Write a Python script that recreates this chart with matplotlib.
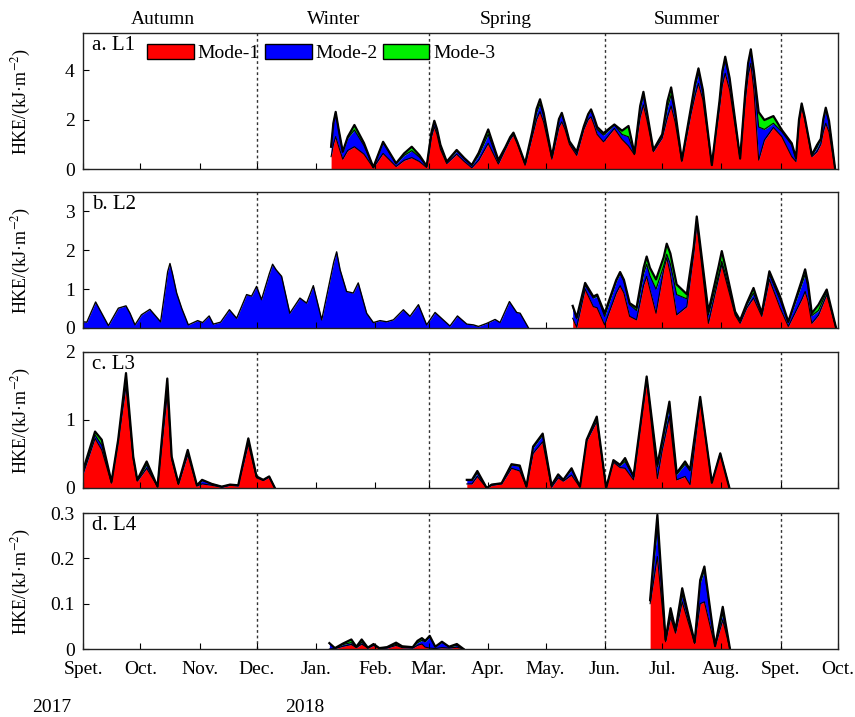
import matplotlib
matplotlib.use("Agg")
import matplotlib.pyplot as plt
from matplotlib.patches import Patch

plt.rcParams["font.family"] = ["Liberation Serif", "DejaVu Serif"]
plt.rcParams["mathtext.fontset"] = "stix"

# days counted from 1 Sept 2017
month_days = [0, 30, 61, 91, 122, 153, 181, 212, 242, 273, 303, 334, 365, 395]
month_labels = ["Spet.", "Oct.", "Nov.", "Dec.", "Jan.", "Feb.", "Mar.", "Apr.",
                "May.", "Jun.", "Jul.", "Aug.", "Spet.", "Oct."]
season_days = [91, 181, 273, 365]
season_names = ["Autumn", "Winter", "Spring", "Summer"]
season_label_days = [42, 131, 221, 316]

# ---- L1
l1_day = [129.8, 131.0, 132.2, 133.6, 135.9, 138.5, 142.0, 147.0, 151.9, 157.0,
          163.8, 168.0, 172.0, 176.0, 179.8, 182.3, 183.8, 185.2, 187.0, 190.3,
          195.5, 199.5, 203.4, 207.0, 212.0, 217.3, 221.0, 223.5, 225.2, 227.3,
          231.3, 235.0, 237.3, 239.1, 241.0, 245.3, 249.0, 250.5, 252.2, 254.5,
          258.3, 262.0, 264.3, 265.8, 267.3, 269.0, 272.3, 278.0, 282.0, 285.4,
          288.5, 291.5, 293.2, 295.0, 298.4, 303.0, 305.8, 307.7, 309.8, 313.3,
          318.0, 320.3, 322.0, 324.3, 329.0, 333.0, 334.5, 336.0, 338.3, 343.8,
          346.5, 348.0, 349.4, 351.0, 353.5, 356.5, 361.2, 365.6, 370.8, 373.0,
          374.6, 376.0, 377.6, 381.3, 384.0, 386.0, 387.3, 388.6, 390.3, 393.5]
l1_m1 = [0.50, 1.00, 1.31, 0.95, 0.40, 0.75, 0.90, 0.60, 0.05, 0.63,
         0.10, 0.35, 0.46, 0.30, 0.06, 1.30, 1.71, 1.40, 0.80, 0.22,
         0.60, 0.30, 0.05, 0.35, 1.04, 0.20, 0.80, 1.20, 1.38, 1.00,
         0.15, 1.30, 2.00, 2.32, 1.90, 0.40, 1.70, 1.91, 1.60, 1.00,
         0.55, 1.60, 2.00, 2.11, 1.80, 1.40, 1.10, 1.64, 1.20, 0.93,
         0.58, 2.10, 2.59, 2.00, 0.70, 1.25, 2.10, 2.55, 1.90, 0.30,
         2.20, 3.00, 3.46, 2.80, 0.14, 2.50, 3.40, 3.87, 3.20, 0.40,
         2.80, 3.80, 4.27, 3.20, 0.36, 1.17, 1.68, 1.31, 0.50, 0.30,
         1.90, 2.52, 2.00, 0.50, 0.70, 1.00, 1.50, 1.85, 1.50, 0.00]
l1_m2 = [0.40, 0.85, 0.98, 0.70, 0.28, 0.50, 0.68, 0.35, 0.02, 0.45,
         0.12, 0.20, 0.28, 0.18, 0.05, 0.15, 0.20, 0.18, 0.15, 0.07,
         0.13, 0.12, 0.10, 0.20, 0.36, 0.10, 0.06, 0.07, 0.07, 0.06,
         0.05, 0.15, 0.28, 0.31, 0.25, 0.07, 0.30, 0.34, 0.20, 0.10,
         0.10, 0.10, 0.20, 0.27, 0.25, 0.20, 0.27, 0.14, 0.20, 0.37,
         0.03, 0.35, 0.40, 0.25, 0.05, 0.10, 0.40, 0.44, 0.30, 0.04,
         0.20, 0.35, 0.41, 0.30, 0.01, 0.20, 0.45, 0.53, 0.40, 0.02,
         0.30, 0.45, 0.53, 0.60, 1.34, 0.43, 0.17, 0.20, 0.47, 0.12,
         0.08, 0.10, 0.08, 0.05, 0.17, 0.20, 0.45, 0.55, 0.40, 0.00]
l1_m3 = [0.00, 0.01, 0.02, 0.02, 0.02, 0.05, 0.20, 0.10, 0.00, 0.02,
         0.01, 0.08, 0.16, 0.08, 0.01, 0.03, 0.04, 0.04, 0.03, 0.01,
         0.04, 0.02, 0.01, 0.10, 0.20, 0.06, 0.03, 0.02, 0.02, 0.02,
         0.03, 0.05, 0.15, 0.19, 0.12, 0.03, 0.02, 0.02, 0.02, 0.02,
         0.05, 0.02, 0.02, 0.03, 0.05, 0.10, 0.08, 0.02, 0.15, 0.44,
         0.02, 0.10, 0.13, 0.08, 0.02, 0.05, 0.25, 0.31, 0.15, 0.02,
         0.06, 0.15, 0.20, 0.10, 0.01, 0.05, 0.10, 0.14, 0.08, 0.01,
         0.03, 0.04, 0.04, 0.15, 0.60, 0.38, 0.29, 0.07, 0.07, 0.03,
         0.02, 0.03, 0.02, 0.02, 0.10, 0.02, 0.06, 0.08, 0.05, 0.00]

# ---- L2 (autumn-spring: mode-2 only)
l2a_day = [0, 2, 6.6, 13.3, 18.5, 22.5, 24.6, 27.2, 30.6, 35.0,
           40.6, 44.3, 45.5, 46.8, 49.0, 51.7, 55.1, 60.0, 62.6, 66.0,
           68.2, 72.0, 76.6, 80.4, 85.6, 88.2, 90.8, 93.4, 97.5, 99.2,
           101.0, 103.9, 108.2, 113.5, 117.0, 120.5, 124.9, 131.2, 132.7, 134.5,
           137.9, 141.4, 144.0, 148.4, 151.9, 155.4, 158.9, 162.4, 167.6, 171.1,
           175.5, 179.8, 184.2, 192.0, 195.9, 200.8, 204.3, 206.9, 211.3, 215.6,
           218.2, 223.1, 226.9, 228.7, 233.1]
l2a_m2 = [0.16, 0.15, 0.67, 0.06, 0.51, 0.57, 0.38, 0.08, 0.34, 0.48,
          0.16, 1.45, 1.66, 1.40, 0.90, 0.50, 0.08, 0.19, 0.14, 0.31,
          0.10, 0.15, 0.47, 0.25, 0.86, 0.82, 1.07, 0.73, 1.40, 1.64,
          1.50, 1.33, 0.38, 0.77, 0.64, 1.09, 0.21, 1.70, 1.96, 1.50,
          0.94, 0.90, 1.16, 0.38, 0.14, 0.19, 0.16, 0.21, 0.47, 0.30,
          0.60, 0.08, 0.40, 0.05, 0.31, 0.10, 0.08, 0.04, 0.12, 0.22,
          0.14, 0.68, 0.40, 0.38, 0.00]

l2b_day = [256.2, 258.3, 262.7, 267.0, 269.0, 272.9, 279.0, 281.0, 283.0, 286.0,
           289.6, 293.3, 294.9, 296.6, 299.8, 303.8, 305.4, 307.3, 310.6, 315.9,
           319.5, 321.1, 322.8, 327.2, 332.6, 334.2, 336.0, 341.2, 343.8, 347.3,
           350.8, 355.1, 359.1, 364.7, 369.0, 376.2, 377.8, 379.3, 381.3, 384.8,
           389.1, 394.0]
l2b_m1 = [0.25, 0.02, 1.00, 0.55, 0.52, 0.08, 0.90, 1.09, 0.90, 0.30,
          0.21, 1.10, 1.33, 1.00, 0.38, 1.50, 1.81, 1.40, 0.34, 0.55,
          1.90, 2.68, 2.00, 0.12, 1.30, 1.64, 1.30, 0.33, 0.12, 0.52,
          0.77, 0.30, 1.25, 0.52, 0.04, 0.75, 0.94, 0.70, 0.12, 0.33,
          0.86, 0.00]
l2b_m2 = [0.30, 0.22, 0.10, 0.22, 0.30, 0.22, 0.30, 0.31, 0.30, 0.30,
          0.24, 0.30, 0.31, 0.35, 0.62, 0.10, 0.09, 0.25, 0.52, 0.20,
          0.12, 0.12, 0.12, 0.22, 0.08, 0.08, 0.10, 0.05, 0.05, 0.08,
          0.13, 0.05, 0.13, 0.20, 0.10, 0.40, 0.44, 0.35, 0.20, 0.12,
          0.08, 0.00]
l2b_m3 = [0.02, 0.03, 0.06, 0.04, 0.04, 0.08, 0.04, 0.04, 0.04, 0.04,
          0.07, 0.15, 0.20, 0.20, 0.25, 0.22, 0.27, 0.27, 0.26, 0.12,
          0.07, 0.07, 0.07, 0.08, 0.22, 0.26, 0.20, 0.04, 0.03, 0.04,
          0.13, 0.03, 0.08, 0.09, 0.02, 0.10, 0.13, 0.10, 0.06, 0.15,
          0.05, 0.00]

# ---- L3
l3a_day = [0, 6.3, 9.8, 14.9, 18.4, 22.5, 26.3, 28.4, 33.3, 39.0,
           44.1, 46.4, 49.9, 54.8, 59.6, 62.3, 67.4, 72.6, 76.9, 81.2,
           86.5, 90.8, 94.3, 97.4, 100.4]
l3a_m1 = [0.20, 0.73, 0.56, 0.07, 0.68, 1.50, 0.42, 0.10, 0.29, 0.02,
          1.39, 0.42, 0.05, 0.49, 0.03, 0.06, 0.04, 0.01, 0.04, 0.03,
          0.65, 0.15, 0.11, 0.16, 0.00]
l3a_m2 = [0.04, 0.05, 0.07, 0.01, 0.02, 0.12, 0.03, 0.01, 0.05, 0.00,
          0.14, 0.03, 0.01, 0.05, 0.01, 0.05, 0.02, 0.01, 0.01, 0.01,
          0.06, 0.01, 0.01, 0.01, 0.00]
l3a_m3 = [0.02, 0.05, 0.08, 0.01, 0.01, 0.07, 0.01, 0.01, 0.05, 0.00,
          0.08, 0.01, 0.01, 0.02, 0.00, 0.01, 0.00, 0.00, 0.00, 0.00,
          0.02, 0.01, 0.00, 0.00, 0.00]

l3b_day = [200.8, 203.5, 206.3, 211.2, 213.8, 219.0, 224.2, 228.5, 232.0, 235.5,
           240.5, 245.1, 248.6, 251.3, 255.6, 260.0, 263.5, 268.8, 273.7, 277.5,
           281.0, 283.6, 288.0, 294.9, 300.5, 303.0, 306.8, 310.6, 315.0, 317.6,
           322.9, 329.0, 333.4, 338.2]
l3b_m1 = [0.06, 0.06, 0.17, 0.00, 0.04, 0.06, 0.29, 0.25, 0.02, 0.51,
          0.68, 0.01, 0.15, 0.10, 0.19, 0.01, 0.69, 0.98, 0.00, 0.38,
          0.30, 0.29, 0.12, 1.58, 0.14, 0.55, 1.05, 0.12, 0.17, 0.05,
          1.29, 0.07, 0.50, 0.00]
l3b_m2 = [0.05, 0.05, 0.05, 0.00, 0.01, 0.01, 0.05, 0.07, 0.00, 0.08,
          0.10, 0.03, 0.04, 0.02, 0.08, 0.01, 0.01, 0.05, 0.00, 0.02,
          0.03, 0.10, 0.04, 0.04, 0.17, 0.10, 0.15, 0.08, 0.18, 0.20,
          0.04, 0.01, 0.01, 0.00]
l3b_m3 = [0.01, 0.01, 0.03, 0.00, 0.00, 0.00, 0.01, 0.01, 0.00, 0.02,
          0.02, 0.00, 0.01, 0.00, 0.02, 0.00, 0.01, 0.02, 0.00, 0.01,
          0.01, 0.05, 0.01, 0.02, 0.03, 0.05, 0.07, 0.02, 0.04, 0.02,
          0.01, 0.00, 0.00, 0.00]

# ---- L4
l4a_day = [128.9, 131.8, 136.0, 140.4, 143.0, 145.8, 149.0, 152.0, 155.0, 159.0,
           163.8, 167.0, 172.5, 175.0, 177.3, 179.0, 181.4, 184.3, 187.8, 191.5,
           195.6, 199.1]
l4a_m1 = [0.000, 0.001, 0.006, 0.010, 0.003, 0.011, 0.002, 0.008, 0.001, 0.002,
          0.008, 0.003, 0.002, 0.008, 0.011, 0.004, 0.002, 0.001, 0.003, 0.002,
          0.004, 0.000]
l4a_m2 = [0.012, 0.001, 0.004, 0.004, 0.001, 0.004, 0.001, 0.002, 0.001, 0.002,
          0.002, 0.002, 0.002, 0.006, 0.008, 0.012, 0.025, 0.004, 0.012, 0.003,
          0.004, 0.000]
l4a_m3 = [0.001, 0.000, 0.002, 0.007, 0.001, 0.006, 0.000, 0.001, 0.000, 0.000,
          0.004, 0.001, 0.000, 0.004, 0.005, 0.002, 0.002, 0.000, 0.001, 0.000,
          0.003, 0.000]

l4b_day = [296.7, 300.5, 304.8, 307.4, 310.0, 313.5, 320.0, 322.9, 325.1, 330.7,
           334.7, 338.5]
l4b_m1 = [0.100, 0.204, 0.016, 0.070, 0.035, 0.104, 0.012, 0.100, 0.104, 0.005,
          0.064, 0.000]
l4b_m2 = [0.006, 0.066, 0.003, 0.008, 0.004, 0.016, 0.002, 0.045, 0.070, 0.001,
          0.015, 0.000]
l4b_m3 = [0.002, 0.026, 0.001, 0.012, 0.003, 0.014, 0.001, 0.007, 0.008, 0.001,
          0.014, 0.000]

RED, BLUE, GREEN = "#ff0000", "#0000ff", "#00ee00"


def stack(ax, day, m1, m2, m3):
    s1 = [a for a in m1]
    s2 = [a + b for a, b in zip(m1, m2)]
    s3 = [a + b + c for a, b, c in zip(m1, m2, m3)]
    ax.fill_between(day, 0, s1, color=RED, lw=0)
    ax.fill_between(day, s1, s2, color=BLUE, lw=0)
    ax.fill_between(day, s2, s3, color=GREEN, lw=0)
    ax.plot(day, s1, color="k", lw=0.8)
    ax.plot(day, s2, color="k", lw=0.8)
    ax.plot(day, s3, color="k", lw=1.6)


def mode2_only(ax, day, m2):
    ax.fill_between(day, 0, m2, color=BLUE, lw=0)
    ax.plot(day, m2, color="k", lw=1.0)


fig = plt.figure(figsize=(8.55, 7.17), dpi=100)
left, width, height = 83 / 855, 755 / 855, 136 / 717
bottoms = [1 - 169 / 717, 1 - 328 / 717, 1 - 488 / 717, 1 - 649 / 717]
axes = [fig.add_axes([left, b, width, height]) for b in bottoms]

ylims = [5.5, 3.5, 2.0, 0.3]
yticks = [[0, 2, 4], [0, 1, 2, 3], [0, 1, 2], [0, 0.1, 0.2, 0.3]]
ytick_labels = [["0", "2", "4"], ["0", "1", "2", "3"], ["0", "1", "2"],
                ["0", "0.1", "0.2", "0.3"]]
titles = ["a. L1", "b. L2", "c. L3", "d. L4"]

stack(axes[0], l1_day, l1_m1, l1_m2, l1_m3)
mode2_only(axes[1], l2a_day, l2a_m2)
stack(axes[1], l2b_day, l2b_m1, l2b_m2, l2b_m3)
stack(axes[2], l3a_day, l3a_m1, l3a_m2, l3a_m3)
stack(axes[2], l3b_day, l3b_m1, l3b_m2, l3b_m3)
stack(axes[3], l4a_day, l4a_m1, l4a_m2, l4a_m3)
stack(axes[3], l4b_day, l4b_m1, l4b_m2, l4b_m3)

for i, ax in enumerate(axes):
    ax.set_xlim(0, 395)
    ax.set_ylim(0, ylims[i])
    for d in season_days:
        ax.axvline(d, color="#333333", lw=1.0, ls=(0, (2, 2)), zorder=0.5)
    ax.set_xticks(month_days)
    ax.set_yticks(yticks[i])
    ax.set_yticklabels(ytick_labels[i])
    ax.tick_params(direction="in", length=4, labelsize=14, pad=6)
    ax.tick_params(axis="x", pad=9)
    if i < 3:
        ax.set_xticklabels([])
    else:
        ax.set_xticklabels(month_labels)
    ax.set_ylabel("HKE/(kJ·m$^{-2}$)", fontsize=13)
    ax.yaxis.set_label_coords(-0.066, 0.5)
    ax.text(0.012, 0.975, titles[i], transform=ax.transAxes, fontsize=15,
            va="top", ha="left")
    for sp in ax.spines.values():
        sp.set_color("#222222")
        sp.set_linewidth(1.0)

for name, d in zip(season_names, season_label_days):
    axes[0].text(d, 1.10, name, transform=axes[0].get_xaxis_transform(),
                 ha="center", va="center", fontsize=14)

handles = [Patch(facecolor=RED, edgecolor="k", label="Mode-1"),
           Patch(facecolor=BLUE, edgecolor="k", label="Mode-2"),
           Patch(facecolor=GREEN, edgecolor="k", label="Mode-3")]
axes[0].legend(handles=handles, loc="center left", bbox_to_anchor=(0.085, 0.85),
               ncol=3, frameon=False, fontsize=14, handlelength=2.4,
               handleheight=0.8, handletextpad=0.2, columnspacing=0.25,
               borderpad=0, borderaxespad=0)

fig.text(52 / 855, 1 - 707 / 717, "2017", ha="center", va="center", fontsize=14)
fig.text(305 / 855, 1 - 707 / 717, "2018", ha="center", va="center", fontsize=14)

fig.savefig("out.png", dpi=100)
